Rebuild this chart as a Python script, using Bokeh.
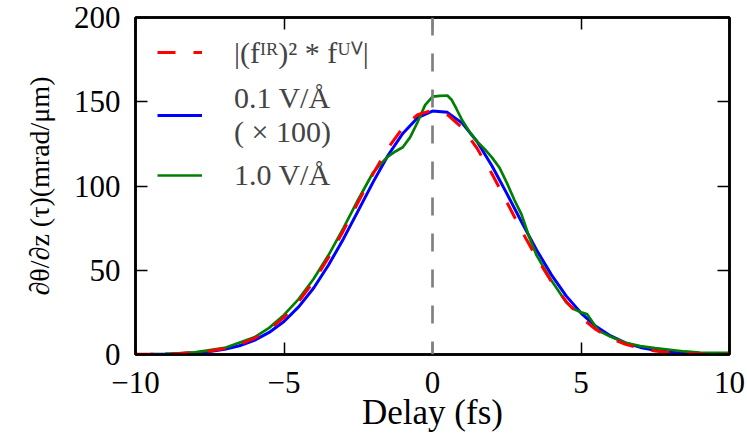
from bokeh.plotting import figure
from bokeh.models import (ColumnDataSource, Legend, LegendItem, LinearAxis, Span,
                          FixedTicker, Range1d)
from bokeh.embed import file_html
from bokeh.resources import INLINE

# ---- data ----
x_grid = [-10, -9.5, -9, -8.5, -8, -7.5, -7, -6.5, -6, -5.5, -5, -4.5, -4, -3.5, -3,
          -2.5, -2, -1.5, -1, -0.5, 0, 0.5, 1, 1.5, 2, 2.5, 3, 3.5, 4, 4.5, 5, 5.5,
          6, 6.5, 7, 7.5, 8, 8.5, 9, 9.5, 10]
conv_vals = [0.08, 0.15, 0.3, 0.6, 1.2, 2.1, 3.6, 6.0, 9.6, 14.8, 22.0, 31.5, 43.4, 57.6,
             73.5, 90.5, 107.3, 122.4, 134.5, 142.3, 145.0, 142.3, 134.5, 122.4, 107.3,
             90.5, 73.5, 57.6, 43.4, 31.5, 22.0, 14.8, 9.6, 6.0, 3.6, 2.1, 1.2, 0.6, 0.3,
             0.15, 0.08]
weak_vals = [0.06, 0.13, 0.26, 0.5, 1.0, 1.8, 3.1, 5.2, 8.4, 13.1, 19.6, 28.4, 39.5, 53.1,
             68.6, 85.4, 102.3, 118.1, 131.2, 140.5, 144.5, 143.7, 137.3, 126.4, 112.0,
             95.6, 78.6, 62.2, 47.4, 34.8, 24.6, 16.7, 11.0, 6.9, 4.2, 2.5, 1.4, 0.7, 0.35,
             0.15, 0.07]
strong_x = [-10, -9, -8, -7, -6, -5.5, -5, -4.5, -4, -3.5, -3, -2.5, -2, -1.75, -1.5,
            -1.25, -1, -0.75, -0.5, -0.25, 0, 0.25, 0.5, 0.65, 0.8, 1, 1.25, 1.5, 1.75, 2,
            2.25, 2.5, 2.75, 3, 3.25, 3.5, 4, 4.5, 4.75, 5, 5.2, 5.4, 5.6, 6, 6.5, 7, 7.5,
            8, 8.5, 9, 9.5, 10]
strong_vals = [0.1, 0.3, 1.3, 3.9, 10.2, 15.8, 23.5, 33, 45, 59, 75, 92, 108, 113, 117.5,
               120.5, 123, 129, 138, 148, 153, 153.5, 153.7, 151, 146, 139, 132, 126.5,
               122, 117, 111, 102, 92, 83, 70, 59, 44, 31, 27, 25, 24, 19, 14, 10.5, 7,
               5, 3.8, 2.8, 1.8, 1.1, 1.0, 1.0]
x_ticks = [-10, -5, 0, 5, 10]
y_ticks = [0, 50, 100, 150, 200]
x_tick_labels = {-10: "\u221210", -5: "\u22125", 0: "0", 5: "5", 10: "10"}
labels = ["|(f\u1d35\u1d3f)\u00b2 * f\u1d41\u2c7d|", "0.1 V/\u00c5\n( \u00d7 100)", "1.0 V/\u00c5"]
x_label = "Delay (fs)"
y_label = "\u2202\u03b8/\u2202z (\u03c4)(mrad/\u03bcm)"

FONT = "Liberation Serif"

p = figure(width=747, height=443, x_range=Range1d(-10, 10), y_range=Range1d(0, 200),
           output_backend="svg", toolbar_location=None)
p.min_border_left = 135
p.min_border_right = 18
p.min_border_top = 17
p.min_border_bottom = 89
p.grid.visible = False
p.outline_line_color = "black"
p.outline_line_width = 2.5
p.background_fill_color = "white"
p.border_fill_color = "white"

src_c = ColumnDataSource(dict(x=x_grid, y=conv_vals))
src_w = ColumnDataSource(dict(x=x_grid, y=weak_vals))
src_s = ColumnDataSource(dict(x=strong_x, y=strong_vals))

p.add_layout(Span(location=0, dimension="height", line_color="#808080",
                  line_width=2.7, line_dash="18 18"))

r_w = p.line("x", "y", source=src_w, line_color="#0000ff", line_width=3)
r_s = p.line("x", "y", source=src_s, line_color="#008000", line_width=2.7)
r_c = p.line("x", "y", source=src_c, line_color="#ff0000", line_width=3, line_dash="18 18")


def style_axis(ax, ticks, show_labels, overrides=None):
    ax.ticker = FixedTicker(ticks=ticks)
    ax.minor_tick_line_color = None
    ax.major_tick_in = 12
    ax.major_tick_out = 0
    ax.major_tick_line_width = 1.5
    ax.major_tick_line_color = "black"
    ax.axis_line_width = 2.5
    ax.axis_line_color = "black"
    ax.major_label_text_font = FONT
    ax.major_label_text_color = "black"
    ax.axis_label_text_color = "black"
    if show_labels:
        ax.major_label_text_font_size = "31px"
        if overrides:
            ax.major_label_overrides = overrides
    else:
        ax.major_label_text_font_size = "0px"
        ax.major_label_standoff = 0
        ax.major_label_overrides = {t: "" for t in ticks}


style_axis(p.xaxis[0], x_ticks, True, x_tick_labels)
style_axis(p.yaxis[0], y_ticks, True)
p.xaxis[0].major_label_standoff = 17
p.yaxis[0].major_label_standoff = 15
p.xaxis[0].axis_label = x_label
p.xaxis[0].axis_label_text_font = FONT
p.xaxis[0].axis_label_text_font_size = "35px"
p.xaxis[0].axis_label_text_font_style = "normal"
p.xaxis[0].axis_label_standoff = -3
p.yaxis[0].axis_label = y_label
p.yaxis[0].axis_label_text_font = FONT
p.yaxis[0].axis_label_text_font_size = "28px"
p.yaxis[0].axis_label_text_font_style = "normal"
p.yaxis[0].axis_label_standoff = 16

top_ax = LinearAxis()
right_ax = LinearAxis()
style_axis(top_ax, x_ticks, False)
style_axis(right_ax, y_ticks, False)
p.add_layout(top_ax, "above")
p.add_layout(right_ax, "right")

legend = Legend(items=[LegendItem(label=labels[0], renderers=[r_c]),
                       LegendItem(label=labels[1], renderers=[r_w]),
                       LegendItem(label=labels[2], renderers=[r_s])],
                location=(22, 162))
legend.border_line_color = None
legend.background_fill_alpha = 0
legend.margin = 0
legend.padding = 7
legend.spacing = 9
legend.glyph_width = 45
legend.glyph_height = 20
legend.label_standoff = 32
legend.label_text_font = FONT
legend.label_text_font_size = "30px"
legend.label_text_line_height = 1.05
p.add_layout(legend)

open("out.html", "w").write(file_html(p, INLINE))
